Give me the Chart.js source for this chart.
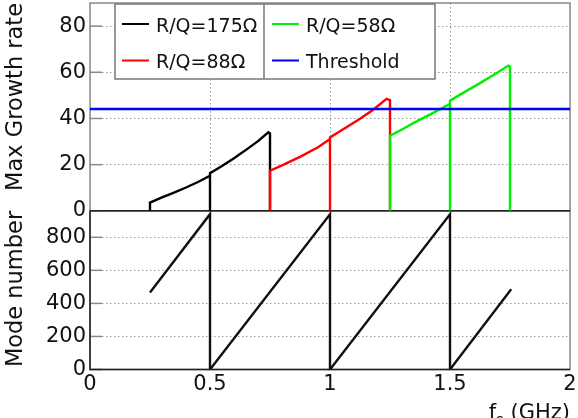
<!DOCTYPE html>
<html>
<head>
<meta charset="utf-8">
<script src="https://cdn.jsdelivr.net/npm/chart.js@4.4.0/dist/chart.umd.min.js"></script>
<style>
  html, body { margin: 0; padding: 0; background: #fff; }
  #wrap { width: 578px; height: 418px; }
</style>
</head>
<body>
<div id="wrap"><canvas id="c" width="578" height="418"></canvas></div>
<script>
// ==== DATA ====
var xTicks = [0, 0.5, 1, 1.5, 2];
var xTickLabels = ['0', '0.5', '1', '1.5', '2'];
var topTicks = [0, 20, 40, 60, 80];
var botTicks = [0, 200, 400, 600, 800];

// max growth rate, R/Q=175 ohm
var rq175X = [0.25, 0.25, 0.3, 0.35, 0.4, 0.45, 0.5, 0.5, 0.5, 0.55, 0.6, 0.625, 0.65, 0.7, 0.743, 0.75, 0.75];
var rq175Y = [0, 3.6, 5.8, 7.9, 10.1, 12.5, 15.2, 0, 16.3, 19.4, 22.8, 24.6, 26.4, 30.2, 34, 33.5, 0];
// R/Q=88 ohm
var rq88X = [0.75, 0.75, 0.8, 0.875, 0.95, 1.0, 1.0, 1.0, 1.06, 1.125, 1.18, 1.236, 1.25, 1.25];
var rq88Y = [0, 17.4, 19.7, 23.4, 27.5, 31.1, 0, 31.8, 35.7, 39.9, 43.8, 48.5, 48, 0];
// R/Q=58 ohm
var rq58X = [1.25, 1.25, 1.3, 1.347, 1.42, 1.5, 1.5, 1.5, 1.56, 1.625, 1.69, 1.743, 1.75, 1.75];
var rq58Y = [0, 32.5, 35.2, 38, 41.9, 46.3, 0, 47.7, 51.4, 55.3, 59.4, 62.9, 62.4, 0];
// threshold
var threshX = [0, 2];
var threshY = [44.1, 44.1];
// mode number
var modeX = [0.25, 0.5, 0.5, 1.0, 1.0, 1.5, 1.5, 1.755];
var modeY = [466, 940, 0, 940, 0, 940, 0, 485];

var FONT = '"DejaVu Sans", "Liberation Sans", sans-serif';

function pts(xs, ys) { return xs.map(function (x, i) { return { x: x, y: ys[i] }; }); }

function lineSet(label, xs, ys, color, axis, order) {
  return {
    label: label, data: pts(xs, ys), borderColor: color, backgroundColor: color,
    borderWidth: 2.4, pointRadius: 0, tension: 0, fill: false, yAxisID: axis, order: order
  };
}

// ==== PLUGINS ====
var frames = {
  id: 'frames',
  beforeDatasetsDraw: function (chart) {
    var ctx = chart.ctx, sx = chart.scales.x, yt = chart.scales.yTop, yb = chart.scales.yBot;
    var l = sx.left, r = sx.right;
    ctx.save();
    // inside ticks on y
    ctx.strokeStyle = '#8a8a8a'; ctx.lineWidth = 1.5;
    topTicks.forEach(function (v) {
      var p = yt.getPixelForValue(v);
      ctx.beginPath(); ctx.moveTo(l, p); ctx.lineTo(l + 12, p); ctx.stroke();
    });
    botTicks.forEach(function (v) {
      var p = yb.getPixelForValue(v);
      ctx.beginPath(); ctx.moveTo(l, p); ctx.lineTo(l + 12, p); ctx.stroke();
    });
    // outer frames
    ctx.strokeStyle = '#8a8a8a'; ctx.lineWidth = 1.5;
    ctx.strokeRect(l, yt.top, r - l, yt.bottom - yt.top);
    ctx.strokeRect(l, yb.top, r - l, yb.bottom - yb.top);
    // dark axes
    ctx.strokeStyle = '#222'; ctx.lineWidth = 1.5;
    ctx.beginPath();
    ctx.moveTo(l, yt.getPixelForValue(0)); ctx.lineTo(r, yt.getPixelForValue(0));
    ctx.moveTo(l, yb.top); ctx.lineTo(l, yb.bottom); ctx.lineTo(r, yb.bottom);
    ctx.stroke();
    // x ticks
    ctx.strokeStyle = '#333'; ctx.lineWidth = 1.2;
    xTicks.slice(1, -1).forEach(function (v) {
      var p = sx.getPixelForValue(v);
      var a = yt.getPixelForValue(0), b = yb.bottom;
      ctx.beginPath(); ctx.moveTo(p, a); ctx.lineTo(p, a - 7); ctx.moveTo(p, b); ctx.lineTo(p, b - 7); ctx.stroke();
    });
    ctx.restore();
  },
  afterDraw: function (chart) {
    var ctx = chart.ctx, sx = chart.scales.x;
    ctx.save();
    // legend
    var ds = chart.data.datasets;
    var bx = 115, by = 4, bw = 320, bh = 75, div = 264;
    ctx.fillStyle = '#fff';
    ctx.fillRect(bx, by, bw, bh);
    ctx.strokeStyle = '#777'; ctx.lineWidth = 1.5;
    ctx.strokeRect(bx, by, bw, bh);
    ctx.beginPath(); ctx.moveTo(div, by); ctx.lineTo(div, by + bh); ctx.stroke();
    var slots = [[122, 24], [122, 60.5], [272, 24], [272, 60.5]];
    ctx.font = '19px ' + FONT;
    ctx.textBaseline = 'alphabetic'; ctx.textAlign = 'left';
    for (var i = 0; i < 4; i++) {
      var s = slots[i];
      ctx.strokeStyle = ds[i].borderColor; ctx.lineWidth = 2;
      ctx.beginPath(); ctx.moveTo(s[0], s[1]); ctx.lineTo(s[0] + 27, s[1]); ctx.stroke();
      ctx.fillStyle = '#111';
      ctx.fillText(ds[i].label, s[0] + 34, s[1] + 7.5);
    }
    // x title with subscript
    var fbig = '21px ' + FONT, fsmall = '15px ' + FONT;
    ctx.font = fbig; var w1 = ctx.measureText('f').width, w3 = ctx.measureText(' (GHz)').width;
    ctx.font = fsmall; var w2 = ctx.measureText('s').width;
    var x0 = sx.right - (w1 + w2 + w3), base = 418.5;
    ctx.fillStyle = '#111';
    ctx.font = fbig; ctx.fillText('f', x0, base);
    ctx.font = fsmall; ctx.fillText('s', x0 + w1, base + 6);
    ctx.font = fbig; ctx.fillText(' (GHz)', x0 + w1 + w2, base);
    ctx.restore();
  }
};

function yFit(s) { s.width = 90; s.paddingTop = 0; s.paddingBottom = 0; }

var tickFont = { family: FONT, size: 21 };
var gridOpts = { color: '#9a9a9a', lineWidth: 1, drawTicks: false };
var borderOpts = { display: false, dash: [1.5, 2.5] };

new Chart(document.getElementById('c'), {
  type: 'line',
  data: {
    datasets: [
      lineSet('R/Q=175Ω', rq175X, rq175Y, '#000000', 'yTop', 4),
      lineSet('R/Q=88Ω', rq88X, rq88Y, '#ff0000', 'yTop', 3),
      lineSet('R/Q=58Ω', rq58X, rq58Y, '#00ee00', 'yTop', 2),
      lineSet('Threshold', threshX, threshY, '#0000ff', 'yTop', 1),
      lineSet('Mode number', modeX, modeY, '#111111', 'yBot', 5)
    ]
  },
  options: {
    responsive: false, animation: false, devicePixelRatio: 1,
    layout: { padding: { top: 3, right: 8, left: 0, bottom: 0 } },
    plugins: { legend: { display: false }, tooltip: { enabled: false } },
    scales: {
      x: {
        type: 'linear', min: 0, max: 2,
        afterBuildTicks: function (s) { s.ticks = xTicks.map(function (v) { return { value: v }; }); },
        afterFit: function (s) { s.height = 48.5; s.paddingLeft = 0; s.paddingRight = 0; },
        ticks: { autoSkip: false, maxRotation: 0, padding: 2, color: '#111', font: tickFont,
          callback: function (v, i) { return xTickLabels[i]; } },
        grid: gridOpts, border: borderOpts
      },
      yBot: {
        type: 'linear', position: 'left', stack: 'panels', stackWeight: 158,
        min: 0, max: 960,
        afterBuildTicks: function (s) { s.ticks = botTicks.map(function (v) { return { value: v }; }); },
        afterFit: yFit,
        ticks: { autoSkip: false, padding: 4, color: '#111', font: tickFont },
        grid: gridOpts, border: borderOpts,
        title: { display: true, text: 'Mode number', align: 'end', color: '#111',
          font: { family: FONT, size: 22.5 }, padding: { top: 3, bottom: 0 } }
      },
      yTop: {
        type: 'linear', position: 'left', stack: 'panels', stackWeight: 207,
        min: 0, max: 90,
        afterBuildTicks: function (s) { s.ticks = topTicks.map(function (v) { return { value: v }; }); },
        afterFit: yFit,
        ticks: { autoSkip: false, padding: 4, color: '#111', font: tickFont },
        grid: gridOpts, border: borderOpts,
        title: { display: true, text: 'Max Growth rate', align: 'end', color: '#111',
          font: { family: FONT, size: 22.5 }, padding: { top: 3, bottom: 0 } }
      }
    }
  },
  plugins: [frames]
});
</script>
</body>
</html>
